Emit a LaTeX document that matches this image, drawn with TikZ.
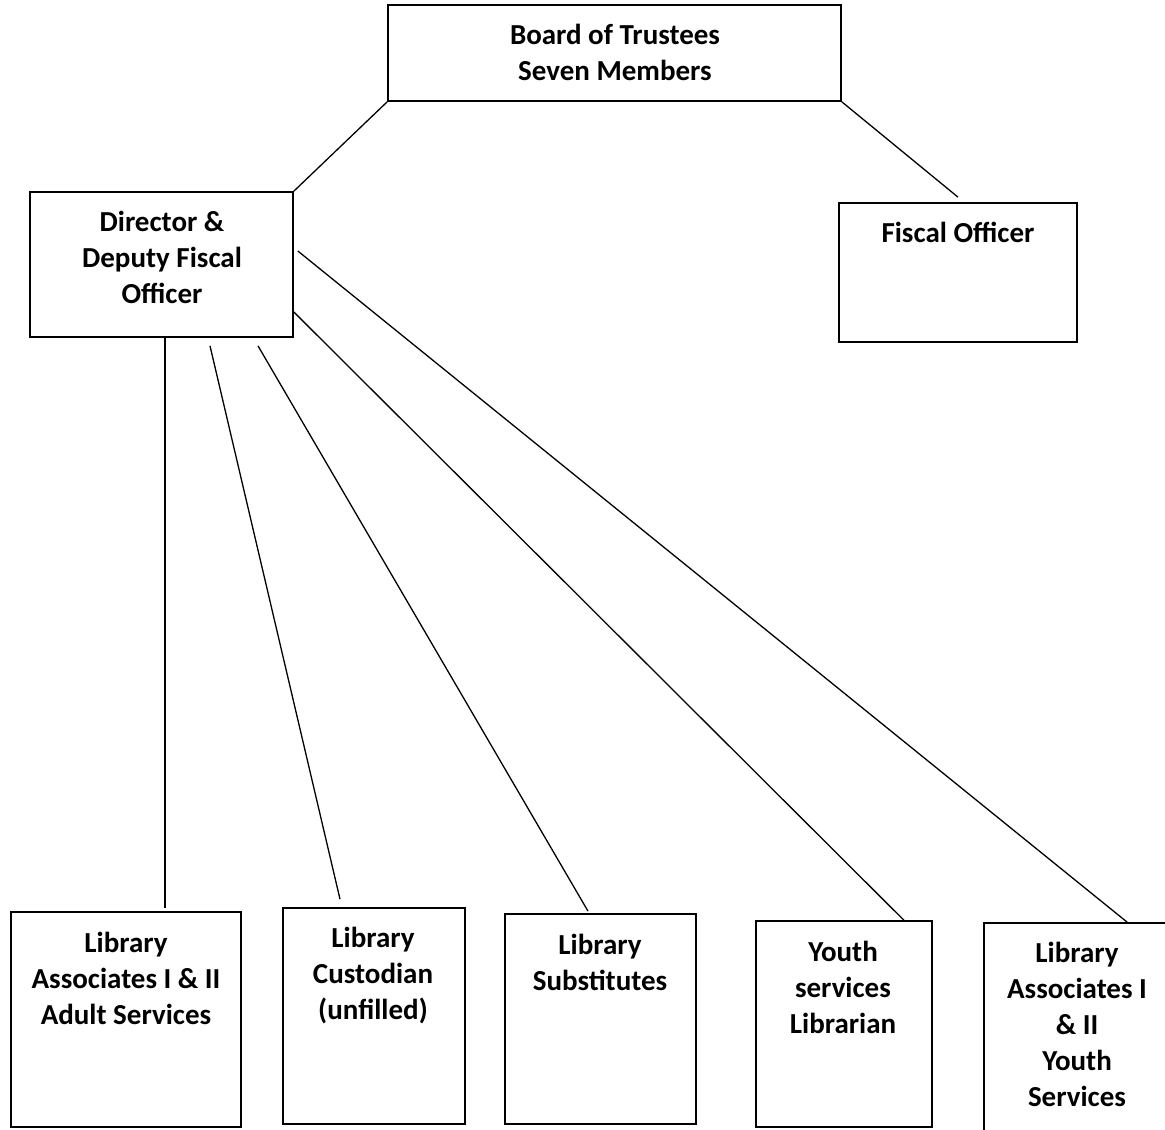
\documentclass[tikz,border=0pt]{standalone}
\usepackage{fontspec}
\setmainfont{Carlito}
\usetikzlibrary{calc}
\begin{document}
\begin{tikzpicture}[x=1pt,y=-1pt,
  box/.style={draw, line width=1.7pt, inner sep=0pt},
  lbl/.style={font=\fontsize{29}{36}\selectfont\bfseries, align=center, inner sep=0pt},
  conn/.style={line width=1.3pt}]
\clip (0,0) rectangle (1165,1130);
% boxes
\node[box, minimum width=453pt, minimum height=96pt] (board) at (614.5,53) {};
\node[box, minimum width=263pt, minimum height=145pt] (dir) at (161.5,264.5) {};
\node[box, minimum width=238pt, minimum height=139pt] (fiscal) at (958,272.5) {};
\node[box, minimum width=230pt, minimum height=215pt] (b1) at (126,1019.5) {};
\node[box, minimum width=182pt, minimum height=216pt] (b2) at (374,1016) {};
\node[box, minimum width=191pt, minimum height=210pt] (b3) at (600.5,1019) {};
\node[box, minimum width=176pt, minimum height=206pt] (b4) at (844,1024) {};
\node[box, minimum width=200pt, minimum height=220pt] (b5) at (1084,1033) {};
% labels
\node[lbl] (boardt) at (615,52) {Board of Trustees\\Seven Members};
\node[lbl] (dirt) at (162,257) {Director \&\\Deputy Fiscal\\Officer};
\node[lbl] (fiscalt) at (958,232) {Fiscal Officer};
\node[lbl] (b1t) at (126,978) {Library\\Associates I \& II\\Adult Services};
\node[lbl] (b2t) at (373,975.5) {Library\\Custodian\\(unfilled)};
\node[lbl] (b3t) at (600,962) {Library\\Substitutes};
\node[lbl] (b4t) at (843,987) {Youth\\services\\Librarian};
\node[lbl] (b5t) at (1077,1024) {Library\\Associates I\\\& II\\Youth\\Services};
% connectors
\draw[conn] (board.south west) -- (dir.north east);
\draw[conn] (board.south east) -- ($(fiscal.north)+(0,-5)$);
\draw[conn] ($(dir.south)+(3.5,0)$) -- ($(b1.north)+(39,-3)$);
\draw[conn] ($(dir.south)+(48.5,8)$) -- ($(b2.north)+(-34,-8)$);
\draw[conn] ($(dir.south)+(96.5,8)$) -- ($(b3.north)+(-12.5,-2)$);
\draw[conn] ($(dir.east)+(0,47.5)$) -- ($(b4.north east)+(-29,0)$);
\draw[conn] ($(dir.east)+(4,-13.5)$) -- ($(b5.north west)+(144,0)$);
\end{tikzpicture}
\end{document}
